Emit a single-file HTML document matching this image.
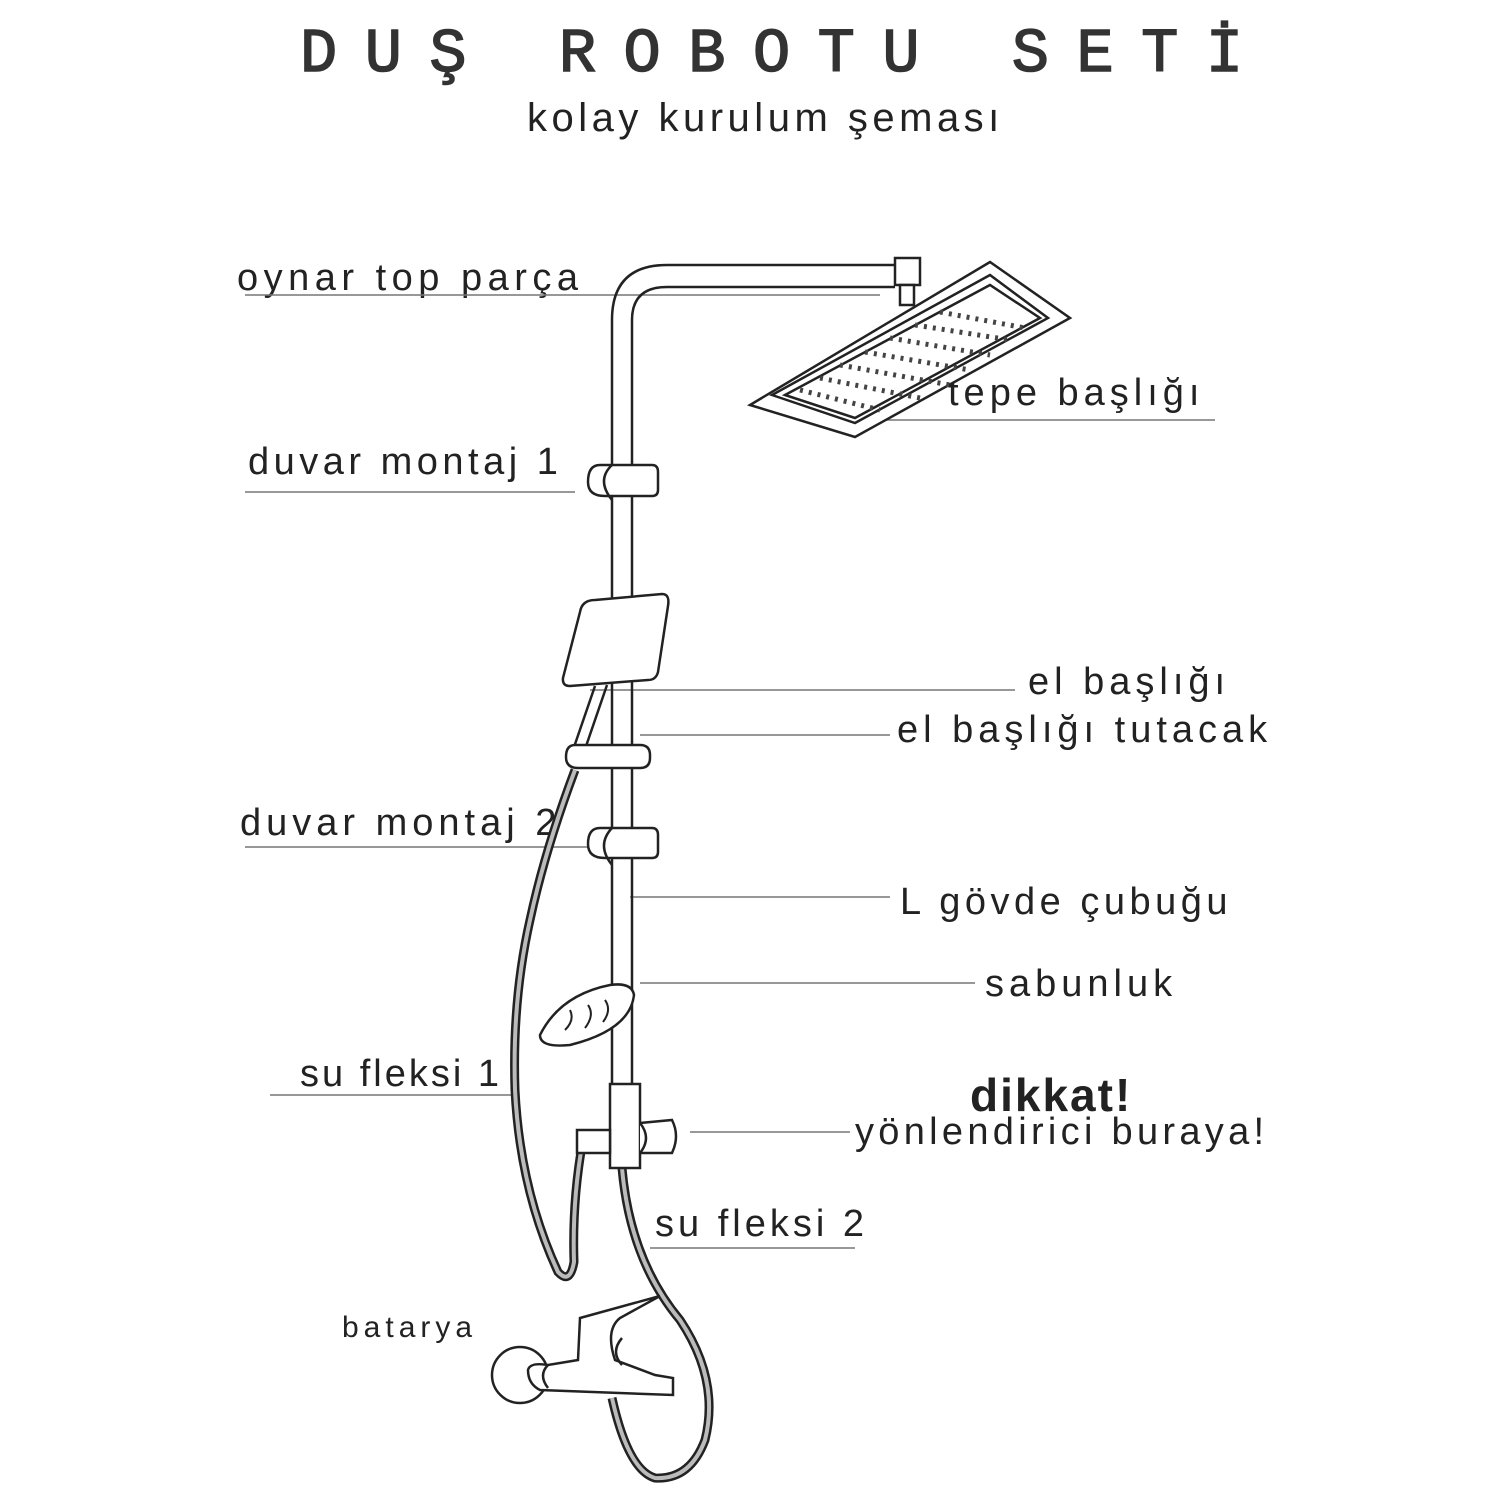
<!DOCTYPE html>
<html><head><meta charset="utf-8"><style>
html,body{margin:0;padding:0;background:#fff;}
.w{position:relative;width:1500px;height:1500px;overflow:hidden;font-family:"Liberation Sans","DejaVu Sans",sans-serif;color:#222;}
.t{position:absolute;white-space:nowrap;line-height:1;font-size:38px;letter-spacing:5px;}
</style></head><body><div class="w">
<div class="t" style="left:300px;top:24px;font-family:'Liberation Mono',monospace;font-size:62px;letter-spacing:27.5px;color:#333;-webkit-text-stroke:1.5px #333;">DUŞ ROBOTU SETİ</div>
<div class="t" style="left:527px;top:98px;font-size:40px;letter-spacing:4.5px;color:#222;">kolay kurulum şeması</div>

<div class="t" style="left:237px;top:259px;letter-spacing:5.5px;">oynar top parça</div>
<div class="t" style="left:948px;top:374px;">tepe başlığı</div>
<div class="t" style="left:248px;top:443px;letter-spacing:4.5px;">duvar montaj 1</div>
<div class="t" style="left:1028px;top:663px;">el başlığı</div>
<div class="t" style="left:897px;top:711px;">el başlığı tutacak</div>
<div class="t" style="left:240px;top:804px;">duvar montaj 2</div>
<div class="t" style="left:900px;top:883px;letter-spacing:4.5px;">L gövde çubuğu</div>
<div class="t" style="left:985px;top:965px;">sabunluk</div>
<div class="t" style="left:300px;top:1055px;letter-spacing:3px;">su fleksi 1</div>
<div class="t" style="left:970px;top:1072px;font-size:46px;font-weight:bold;letter-spacing:2px;">dikkat!</div>
<div class="t" style="left:855px;top:1113px;letter-spacing:4.3px;">yönlendirici buraya!</div>
<div class="t" style="left:655px;top:1205px;letter-spacing:4px;">su fleksi 2</div>
<div class="t" style="left:342px;top:1313px;font-size:30px;letter-spacing:5px;">batarya</div>

<svg width="1500" height="1500" style="position:absolute;left:0;top:0" fill="none" stroke="#222" stroke-width="2.5">
<g stroke="#777" stroke-width="1.5">
<line x1="245" y1="295" x2="880" y2="295"/>
<line x1="880" y1="420" x2="1215" y2="420"/>
<line x1="245" y1="492" x2="575" y2="492"/>
<line x1="590" y1="690" x2="1015" y2="690"/>
<line x1="640" y1="735" x2="890" y2="735"/>
<line x1="245" y1="847" x2="590" y2="847"/>
<line x1="630" y1="897" x2="890" y2="897"/>
<line x1="640" y1="983" x2="975" y2="983"/>
<line x1="270" y1="1095" x2="515" y2="1095"/>
<line x1="690" y1="1132" x2="850" y2="1132"/>
<line x1="650" y1="1248" x2="855" y2="1248"/>
</g>
<path d="M612 1085 V320 Q612 265 667 265 H895"/>
<path d="M632 1085 V320 Q632 287 667 287 H895"/>
<rect x="895" y="258" width="25" height="27" fill="#fff"/>
<rect x="900" y="285" width="14" height="20" fill="#fff"/>
<polygon points="750,405 855,437 1070,318 990,262" fill="#fff"/>
<polygon points="772,395 855,423 1048,318 990,275"/>
<polygon points="785,395 855,418 1040,318 990,285"/>
<g stroke="#444" stroke-width="5" stroke-dasharray="3 6">
<line x1="800" y1="390" x2="880" y2="410"/>
<line x1="820" y1="378" x2="920" y2="398"/>
<line x1="840" y1="365" x2="950" y2="385"/>
<line x1="865" y1="352" x2="970" y2="370"/>
<line x1="890" y1="338" x2="990" y2="355"/>
<line x1="915" y1="325" x2="1010" y2="340"/>
<line x1="940" y1="312" x2="1025" y2="328"/>
</g>
<path d="M600 465 H652 Q658 465 658 472 V490 Q658 496 652 496 H605 Q588 496 588 482 Q588 465 600 465Z" fill="#fff"/>
<path d="M612 465 Q596 480 612 500"/>
<path d="M600 828 H652 Q658 828 658 835 V852 Q658 858 652 858 H605 Q588 858 588 844 Q588 828 600 828Z" fill="#fff"/>
<path d="M612 828 Q596 845 612 865"/>
<path d="M580 612 Q582 600 595 600 L662 594 Q670 594 668 606 L658 672 Q656 680 648 680 L570 686 Q562 686 563 678Z" fill="#fff"/>
<path d="M595 686 L573 750 M607 685 L583 755"/>
<path d="M575 745 H640 Q650 745 650 755 V758 Q650 768 640 768 H578 Q566 768 566 757 Q566 745 575 745Z" fill="#fff"/>
<g stroke="#222" stroke-width="9"><path d="M575 770 Q545 850 530 920 Q512 1000 515 1090 Q520 1190 558 1272 Q570 1285 574 1262 Q572 1200 583 1140"/>
<path d="M622 1168 Q630 1260 680 1320 Q720 1380 705 1440 Q690 1480 655 1478 Q628 1470 612 1398"/></g>
<g stroke="#bbb" stroke-width="4"><path d="M575 770 Q545 850 530 920 Q512 1000 515 1090 Q520 1190 558 1272 Q570 1285 574 1262 Q572 1200 583 1140"/>
<path d="M622 1168 Q630 1260 680 1320 Q720 1380 705 1440 Q690 1480 655 1478 Q628 1470 612 1398"/></g>
<path d="M540 1035 Q560 995 610 985 Q632 982 634 995 Q630 1030 570 1045 Q540 1048 540 1035Z" fill="#fff"/>
<path d="M565 1030 Q575 1020 570 1010 M585 1028 Q595 1015 588 1005 M603 1022 Q612 1010 605 1000" stroke-width="2"/>
<rect x="610" y="1084" width="30" height="84" fill="#fff"/>
<rect x="577" y="1130" width="33" height="23" fill="#fff"/>
<path d="M640 1123 L672 1120 Q680 1136 672 1153 L640 1153" fill="#fff"/>
<path d="M640 1123 Q652 1138 640 1153"/>
<circle cx="520" cy="1375" r="28" fill="#fff"/>
<path d="M580 1318 L660 1296 L620 1318 Q605 1330 615 1360 L655 1375 L673 1378 L673 1395 L540 1390 Q528 1384 528 1370 Q530 1362 548 1365 L578 1360 Z" fill="#fff"/>
<path d="M548 1365 Q538 1375 548 1388"/>
<path d="M622 1338 Q610 1352 622 1365"/>
</svg>
</div></body></html>
